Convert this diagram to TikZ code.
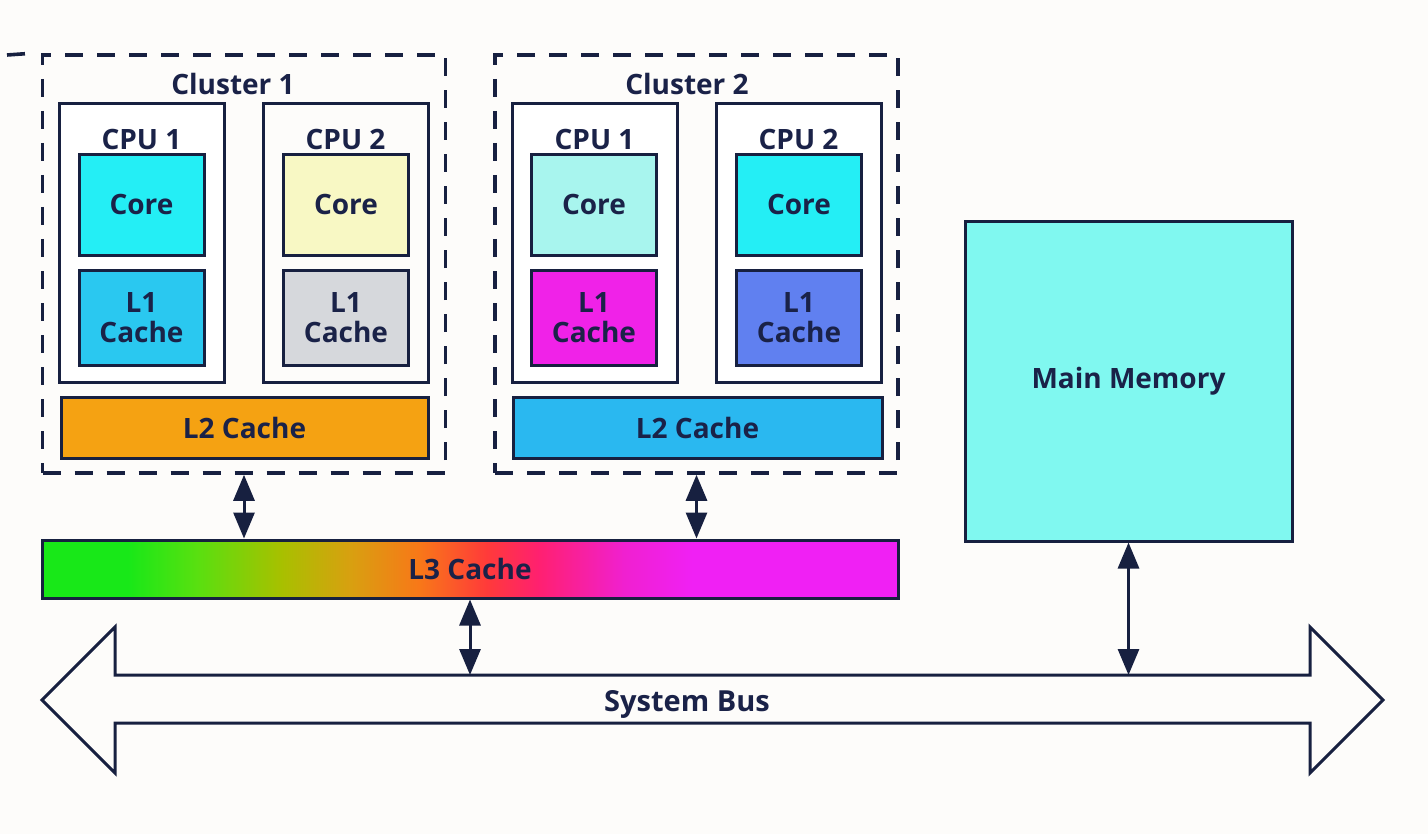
\documentclass[tikz,border=0pt]{standalone}
\usepackage{fontspec}
\setmainfont{Open Sans}
\usetikzlibrary{arrows.meta}
\definecolor{ink}{HTML}{172040}
\definecolor{txt}{HTML}{1A2248}
\definecolor{bg}{HTML}{FDFCFA}
\definecolor{coreA}{HTML}{24EEF5}
\definecolor{lA}{HTML}{2AC8F0}
\definecolor{coreB}{HTML}{F8F8C4}
\definecolor{lB}{HTML}{D6D8DC}
\definecolor{ltwoA}{HTML}{F5A212}
\definecolor{coreC}{HTML}{A8F5EE}
\definecolor{lC}{HTML}{F022E8}
\definecolor{lD}{HTML}{6080F0}
\definecolor{ltwoB}{HTML}{2AB8F0}
\definecolor{memc}{HTML}{80F8F0}
\definecolor{gA}{HTML}{18E818}
\definecolor{gB}{HTML}{58E010}
\definecolor{gC}{HTML}{A8C000}
\definecolor{gD}{HTML}{D8A010}
\definecolor{gE}{HTML}{F87818}
\definecolor{gF}{HTML}{FF3A3A}
\definecolor{gG}{HTML}{FF2070}
\definecolor{gH}{HTML}{F020D0}
\definecolor{gI}{HTML}{F020F4}
\pgfdeclarehorizontalshading{lthree}{100bp}{color(0bp)=(gA); color(25bp)=(gA); color(30bp)=(gA); color(34bp)=(gB); color(39bp)=(gC); color(43bp)=(gD); color(47bp)=(gE); color(51bp)=(gF); color(54bp)=(gG); color(59bp)=(gH); color(63bp)=(gI); color(75bp)=(gI); color(100bp)=(gI)}
\tikzset{
  box/.style={draw=ink, line width=1.5pt, rectangle, inner sep=0pt, align=center,
    text=txt, font=\bfseries\fontsize{14}{15}\selectfont},
  dashline/.style={draw=ink, line width=1.8pt, dash pattern=on 9pt off 7pt},
  cluster/.style={dashline, rectangle, inner sep=0pt,
    minimum width=201.5pt, minimum height=209pt},
  cpubox/.style={box, fill=white, minimum width=82.5pt, minimum height=139pt},
  corebox/.style={box, minimum width=62.5pt, minimum height=50pt},
  lonebox/.style={box, minimum width=62.5pt, minimum height=47.5pt},
  ltwobox/.style={box, minimum width=183.5pt, minimum height=30.5pt},
  lbl/.style={text=txt, font=\bfseries\fontsize{14}{15}\selectfont, inner sep=0pt},
  conn/.style={draw=ink, line width=1.5pt, {Triangle[width=10.5pt,length=13pt]}-{Triangle[width=10.5pt,length=13pt]}},
}
\begin{document}
\begin{tikzpicture}[x=0.5pt, y=-0.5pt]
\fill[bg] (0,0) rectangle (1428,834);
\useasboundingbox (0,0) rectangle (1428,834);

% Cluster 1
\node[cluster] (c1) at (244,264) {};
\coordinate (c1ext) at (7,55);
\draw[dashline] (c1ext) -- ([xshift=-4pt]c1.north west);
\node[lbl] (c1lbl) at (233,84) {Cluster 1};
\node[cpubox] (c1p1) at (141.5,243) {};
\node[cpubox, fill=bg] (c1p2) at (345.5,243) {};
\node[lbl] (c1p1lbl) at (141.5,140) {CPU 1};
\node[lbl] (c1p2lbl) at (345.5,140) {CPU 2};
\node[corebox, fill=coreA] (c1p1core) at (141.5,205) {Core};
\node[lonebox, fill=lA] (c1p1l1) at (141.5,317.5) {L1\\Cache};
\node[corebox, fill=coreB] (c1p2core) at (346,205) {Core};
\node[lonebox, fill=lB] (c1p2l1) at (346,317.5) {L1\\Cache};
\node[ltwobox, fill=ltwoA] (c1l2) at (244.5,427.5) {L2 Cache};

% Cluster 2
\node[cluster] (c2) at (696.5,264) {};
\node[lbl] (c2lbl) at (687,84) {Cluster 2};
\node[cpubox] (c2p1) at (594.5,243) {};
\node[cpubox] (c2p2) at (798.5,243) {};
\node[lbl] (c2p1lbl) at (594.5,140) {CPU 1};
\node[lbl] (c2p2lbl) at (798.5,140) {CPU 2};
\node[corebox, fill=coreC] (c2p1core) at (594,205) {Core};
\node[lonebox, fill=lC] (c2p1l1) at (594,317.5) {L1\\Cache};
\node[corebox, fill=coreA] (c2p2core) at (799,205) {Core};
\node[lonebox, fill=lD] (c2p2l1) at (799,317.5) {L1\\Cache};
\node[ltwobox, fill=ltwoB, minimum width=184.5pt] (c2l2) at (697.5,427.5) {L2 Cache};

% L3
\node[box, shading=lthree, minimum width=428pt, minimum height=29pt] (l3) at (470,569) {L3 Cache};

% Main memory
\node[box, fill=memc, minimum width=163.5pt, minimum height=159.5pt] (mem) at (1128.5,381.5) {\raisebox{-2pt}{Main Memory}};

% System bus
\draw[draw=ink, line width=1.5pt, fill=bg, line join=miter]
  (42,700) -- (115,627) -- (115,675) -- (1310,675) -- (1310,627) -- (1383,700)
  -- (1310,773) -- (1310,723) -- (115,723) -- (115,773) -- cycle;
\coordinate (bustop) at (700,675);
\node[lbl, font=\bfseries\fontsize{14.5}{15}\selectfont] (buslbl) at (687,704) {System Bus};

% connectors
\draw[conn] (c1.south) -- (c1.south |- l3.north);
\draw[conn] (c2.south) -- (c2.south |- l3.north);
\draw[conn] (l3.south) -- (l3.south |- bustop);
\draw[conn] (mem.south) -- (mem.south |- bustop);
\end{tikzpicture}
\end{document}
